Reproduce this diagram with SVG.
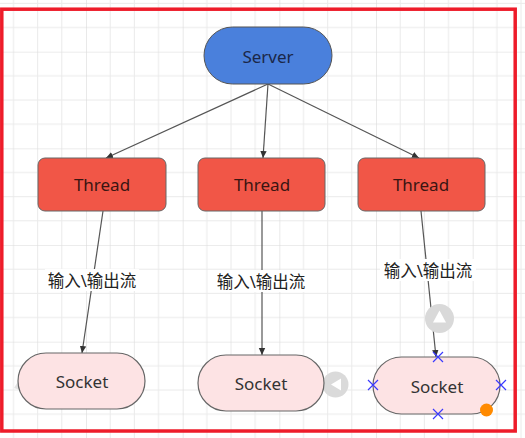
<svg xmlns="http://www.w3.org/2000/svg" width="525" height="438" viewBox="0 0 525 438">
  <defs>
    <pattern id="grid" patternUnits="userSpaceOnUse" x="-10.67" y="-45" width="96.67" height="96.67">
      <path d="M24.17 0V96.67M48.33 0V96.67M72.5 0V96.67M0 24.17H96.67M0 48.33H96.67M0 72.5H96.67" stroke="#eaeaea" stroke-width="1" fill="none"/>
      <path d="M0 0V96.67M0 0H96.67" stroke="#dadada" stroke-width="1.2" fill="none"/>
    </pattern>
    <marker id="arr" markerWidth="8" markerHeight="8" refX="7" refY="4" orient="auto" markerUnits="userSpaceOnUse">
      <path d="M0 0.8L7 4L0 7.2Z" fill="#333"/>
    </marker>
    <style>
      .lbl{font-family:"Noto Sans","Noto Sans CJK SC",sans-serif;text-anchor:middle;dominant-baseline:central}
      .t{font-size:17px}
      .cn{font-size:16.5px;fill:#222}
      .edge{stroke:#555;stroke-width:1.2;fill:none;marker-end:url(#arr)}
      .thread{fill:#f15647;stroke:#666;stroke-width:1}
      .socket{fill:#fde3e4;stroke:#666;stroke-width:1.2}
      .xm{stroke:#3a3aff;stroke-width:1.2}
    </style>
  </defs>
  <rect width="525" height="438" fill="#fff"/>
  <rect width="525" height="438" fill="url(#grid)"/>
  <rect x="1.8" y="9.2" width="513.4" height="421.8" fill="none" stroke="#ee1c2a" stroke-width="3.5"/>

  <g id="connectors">
    <line class="edge" x1="268" y1="84" x2="106" y2="158"/>
    <line class="edge" x1="268" y1="84" x2="263" y2="158"/>
    <line class="edge" x1="268" y1="84" x2="419" y2="158"/>
    <line class="edge" x1="103" y1="211" x2="82" y2="353"/>
    <line class="edge" x1="262" y1="211" x2="262" y2="355"/>
    <line class="edge" x1="421" y1="211" x2="436" y2="357"/>
    <g id="label1">
      <rect x="45" y="269" width="94" height="22" fill="#fff"/>
      <text class="lbl cn" x="92" y="280">输入\输出流</text>
    </g>
    <g id="label2">
      <rect x="214" y="270" width="94" height="22" fill="#fff"/>
      <text class="lbl cn" x="261" y="281">输入\输出流</text>
    </g>
    <g id="label3">
      <rect x="380" y="259" width="96" height="22" fill="#fff"/>
      <text class="lbl cn" x="428" y="270">输入\输出流</text>
    </g>
  </g>

  <g id="server">
    <rect x="204" y="27" width="128" height="57" rx="28.5" fill="#4a80dc" stroke="#555" stroke-width="1"/>
    <text class="lbl t" x="268" y="56" fill="#1b2748">Server</text>
  </g>

  <g id="thread1">
    <rect class="thread" x="38" y="158" width="128" height="53" rx="7"/>
    <text class="lbl t" x="102" y="184" fill="#3a1512">Thread</text>
  </g>
  <g id="thread2">
    <rect class="thread" x="198" y="158" width="127" height="53" rx="7"/>
    <text class="lbl t" x="262" y="184" fill="#3a1512">Thread</text>
  </g>
  <g id="thread3">
    <rect class="thread" x="358" y="158" width="127" height="53" rx="7"/>
    <text class="lbl t" x="421" y="184" fill="#3a1512">Thread</text>
  </g>

  <g id="handles">
    <circle cx="439.5" cy="318.5" r="14.5" fill="#d9d9d9"/>
    <path d="M439.5 310.5L446 322.5H433Z" fill="#fff"/>
    <circle cx="335.5" cy="384.5" r="13" fill="#dadada"/>
    <path d="M331 384.5L341 378.5V390.5Z" fill="#fff"/>
    <path d="M14 388L19 380L20 390Z" fill="#e2e2e2"/>
  </g>

  <g id="socket1">
    <rect class="socket" x="18" y="353" width="127" height="56" rx="28"/>
    <text class="lbl t" x="82" y="381" fill="#333">Socket</text>
  </g>
  <g id="socket2">
    <rect class="socket" x="198" y="355" width="126" height="56" rx="28"/>
    <text class="lbl t" x="261" y="383" fill="#333">Socket</text>
  </g>
  <g id="socket3">
    <rect class="socket" x="373" y="357" width="127" height="57" rx="28.5"/>
    <text class="lbl t" x="437" y="386" fill="#333">Socket</text>
    <path class="xm" d="M433 352L443 362M443 352L433 362"/>
    <path class="xm" d="M368 380L378 390M378 380L368 390"/>
    <path class="xm" d="M496 380L506 390M506 380L496 390"/>
    <path class="xm" d="M433 409L443 419M443 409L433 419"/>
    <circle cx="486.5" cy="410" r="6.5" fill="#ff8a00"/>
  </g>
</svg>
